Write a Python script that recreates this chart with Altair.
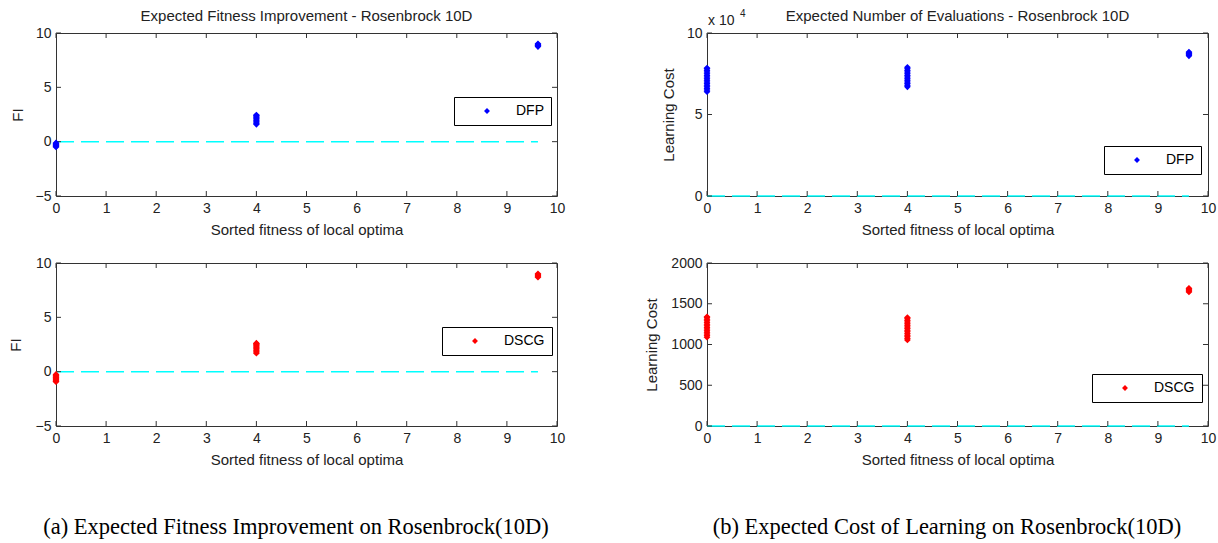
import altair as alt
import pandas as pd

FONT = "Liberation Sans"
SERIF = "Liberation Serif"
TXT = "#222222"
BOX = "#333333"
CYAN = "#00FFFF"

# ---------------- data ----------------
x_levels = [0, 4, 9.62]            # sorted fitness of local optima
zero_line_x = [0, 9.62]             # extent of the dashed zero line
x_ticks = [0, 1, 2, 3, 4, 5, 6, 7, 8, 9, 10]

# Expected fitness improvement, DFP
dfp_fi_0 = [-0.12, -0.18, -0.24, -0.3, -0.36, -0.42, -0.48]
dfp_fi_4 = [1.6, 1.7, 1.8, 1.9, 2.0, 2.1, 2.2, 2.3, 2.4, 2.45]
dfp_fi_96 = [8.75, 8.82, 8.88, 8.94, 9.0]
# Expected fitness improvement, DSCG
dscg_fi_0 = [-0.25, -0.32, -0.4, -0.48, -0.56, -0.64, -0.72, -0.8, -0.88, -0.92]
dscg_fi_4 = [1.7, 1.8, 1.9, 2.0, 2.1, 2.2, 2.3, 2.4, 2.5, 2.58, 2.62]
dscg_fi_96 = [8.7, 8.78, 8.85, 8.92, 9.0]
# Learning cost, DFP
dfp_lc_0 = [64000, 65000, 66000, 67000, 68000, 69000, 70000, 71000, 72000, 73000,
            74000, 75000, 76000, 77000, 78000, 78500]
dfp_lc_4 = [67000, 68000, 69000, 70000, 71000, 72000, 73000, 74000, 75000, 76000,
            77000, 78000, 79000]
dfp_lc_96 = [86000, 86600, 87200, 87800, 88300]
# Learning cost, DSCG
dscg_lc_0 = [1090, 1110, 1130, 1150, 1170, 1190, 1210, 1230, 1250, 1270, 1290,
             1310, 1330, 1340]
dscg_lc_4 = [1055, 1075, 1095, 1115, 1135, 1155, 1175, 1195, 1215, 1235, 1255,
             1275, 1295, 1315, 1330]
dscg_lc_96 = [1645, 1657, 1668, 1680, 1690]

fi_ticks = [-5, 0, 5, 10]
lc_dfp_ticks = [0, 50000, 100000]
lc_dscg_ticks = [0, 500, 1000, 1500, 2000]

title_fi = "Expected Fitness Improvement - Rosenbrock 10D"
title_lc = "Expected Number of Evaluations - Rosenbrock 10D"
x_title = "Sorted fitness of local optima"
caption_a = "(a) Expected Fitness Improvement on Rosenbrock(10D)"
caption_b = "(b) Expected Cost of Learning on Rosenbrock(10D)"

W = 501
H = 163


def points_df(lists, name):
    rows = []
    for xv, ys in zip(x_levels, lists):
        for yv in ys:
            rows.append({"x": xv, "y": yv, "series": name})
    return pd.DataFrame(rows)


def text_layer(txt, x, y, font=FONT, size=15, align="center", color=TXT):
    return alt.Chart(pd.DataFrame({"t": [txt]})).mark_text(
        font=font, fontSize=size, color=color, align=align, baseline="middle"
    ).encode(text="t:N", x=alt.value(x), y=alt.value(y))


def panel(lists, name, color, ydomain, yticks, ytitle, legend_x, legend_y,
          title=None, label_expr=None, caption=None, exponent=False, title_x=-39):
    xscale = alt.Scale(domain=[0, 10], nice=False, zero=False)
    yscale = alt.Scale(domain=ydomain, nice=False, zero=False)
    xaxis = alt.Axis(values=x_ticks, title=x_title, grid=False, domain=False,
                     ticks=False, tickSize=0, labelPadding=5, labelFlush=False,
                     titleY=33, titleBaseline="middle")
    yargs = dict(values=yticks, title=ytitle, grid=False, domain=False,
                 ticks=False, tickSize=0, labelPadding=5, labelFlush=False,
                 titleX=title_x, titleY=H / 2, titleBaseline="middle", format="d")
    if label_expr:
        yargs["labelExpr"] = label_expr
    yaxis = alt.Axis(**yargs)

    zl = pd.DataFrame({"x": zero_line_x, "y": [0, 0]})
    line = alt.Chart(zl).mark_line(color=CYAN, strokeDash=[18, 7], strokeWidth=1.5).encode(
        x=alt.X("x:Q", scale=xscale, axis=xaxis),
        y=alt.Y("y:Q", scale=yscale, axis=yaxis),
    )
    pts = alt.Chart(points_df(lists, name)).mark_point(
        shape="diamond", filled=True, size=45, opacity=1
    ).encode(
        x="x:Q",
        y="y:Q",
        color=alt.Color(
            "series:N",
            scale=alt.Scale(domain=[name], range=[color]),
            legend=alt.Legend(orient="none", legendX=legend_x, legendY=legend_y,
                              title=None, strokeColor="black", fillColor="white",
                              padding=7, cornerRadius=0, symbolType="diamond",
                              symbolSize=35, symbolOffset=19, labelOffset=22,
                              labelFont=FONT, labelFontSize=14, labelColor="black"),
        ),
    )
    xt = pd.DataFrame({"x": x_ticks})
    yt = pd.DataFrame({"y": yticks})
    tick_b = alt.Chart(xt).mark_rule(color=BOX).encode(
        x="x:Q", y=alt.value(H - 5), y2=alt.value(H))
    tick_t = alt.Chart(xt).mark_rule(color=BOX).encode(
        x="x:Q", y=alt.value(0), y2=alt.value(5))
    tick_l = alt.Chart(yt).mark_rule(color=BOX).encode(
        y="y:Q", x=alt.value(0), x2=alt.value(5))
    tick_r = alt.Chart(yt).mark_rule(color=BOX).encode(
        y="y:Q", x=alt.value(W - 5), x2=alt.value(W))
    layers = [line, tick_b, tick_t, tick_l, tick_r, pts]
    if title:
        layers.append(text_layer(title, W / 2, -17))
    if caption:
        layers.append(text_layer(caption, 240, 264, font=SERIF, size=22.5, color="black"))
    if exponent:
        layers.append(text_layer("x 10", 1, -12, size=14, align="left"))
        layers.append(text_layer("4", 33, -19, size=10, align="left"))
    return alt.layer(*layers).properties(width=W, height=H)


p_a1 = panel([dfp_fi_0, dfp_fi_4, dfp_fi_96], "DFP", "#0000FF", [-5, 10], fi_ticks,
             "FI", 398, 64, title=title_fi)
p_b1 = panel([dfp_lc_0, dfp_lc_4, dfp_lc_96], "DFP ", "#0000FF", [0, 100000], lc_dfp_ticks,
             "Learning Cost", 397, 113, title=title_lc,
             label_expr="format(datum.value / 10000, 'd')", exponent=True)
p_a2 = panel([dscg_fi_0, dscg_fi_4, dscg_fi_96], "DSCG", "#FF0000", [-5, 10], fi_ticks,
             "FI", 386, 64, caption=caption_a, title_x=-41)
p_b2 = panel([dscg_lc_0, dscg_lc_4, dscg_lc_96], "DSCG ", "#FF0000", [0, 2000], lc_dscg_ticks,
             "Learning Cost", 385, 111, caption=caption_b, title_x=-56)

chart = alt.concat(
    p_a1, p_b1, p_a2, p_b2,
    columns=2, spacing={"row": 67, "column": 150}, bounds="flush",
).resolve_scale(
    color="independent", x="independent", y="independent"
).properties(
    padding={"left": 7, "top": 8, "right": 1, "bottom": 2},
    background="white",
).configure_view(
    stroke=BOX, strokeWidth=1
).configure_axis(
    labelFont=FONT, labelFontSize=14, labelColor=TXT,
    titleFont=FONT, titleFontSize=15, titleColor=TXT, titleFontWeight="normal",
)

chart.save("out.html", embed_options={"renderer": "svg", "actions": False})
